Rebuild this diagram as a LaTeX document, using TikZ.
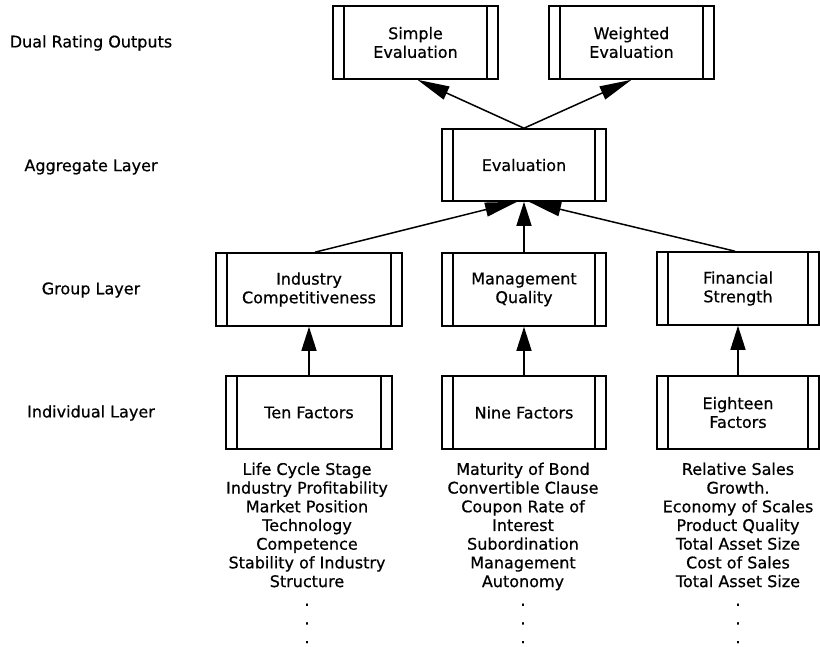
\documentclass[tikz,border=0pt]{standalone}
\usepackage{fontspec}
\setmainfont[FakeBold=0.6]{DejaVu Sans}
\usetikzlibrary{arrows.meta}
\begin{document}
\begin{tikzpicture}[x=1pt,y=-1pt,
  every node/.style={font=\fontsize{16pt}{18.7pt}\selectfont, inner sep=0pt, align=center},
  blk/.style={draw, line width=1.6pt, minimum width=#1, minimum height=73pt,
    path picture={
      \draw[line width=1.6pt] ([xshift=11pt]path picture bounding box.north west) -- ([xshift=11pt]path picture bounding box.south west);
      \draw[line width=1.6pt] ([xshift=-11pt]path picture bounding box.north east) -- ([xshift=-11pt]path picture bounding box.south east);
    }},
  dconn/.style={line width=1.5pt, -{Triangle[length=32pt,width=14pt]}},
  vconn/.style={line width=1.5pt, -{Triangle[length=24pt,width=15pt]}},
  lbl/.style={}
]
\fill[white] (0,0) rectangle (820,646);
\useasboundingbox (0,0) rectangle (820,646);

% layer labels
\node[lbl] (l1) at (91,43) {Dual Rating Outputs};
\node[lbl] (l2) at (91,167) {Aggregate Layer};
\node[lbl] (l3) at (91,290) {Group Layer};
\node[lbl] (l4) at (91,413) {Individual Layer};

% boxes
\node[blk=165pt] (sim) at (415.5,42.5) {Simple\\Evaluation};
\node[blk=165pt] (wei) at (631.5,42.5) {Weighted\\Evaluation};
\node[blk=164pt, minimum height=72pt] (eva) at (524,165) {Evaluation};
\node[blk=186pt] (ind) at (309,289.5) {Industry\\Competitiveness};
\node[blk=164pt] (man) at (524,289.5) {Management\\Quality};
\node[blk=162pt] (fin) at (738,288.5) {Financial\\Strength};
\node[blk=166pt] (ten) at (309,412.5) {Ten Factors};
\node[blk=164pt] (nin) at (524,412.5) {Nine Factors};
\node[blk=162pt] (eig) at (738,412.5) {Eighteen\\Factors};

% factor lists
\node[anchor=north] (tenl) at (307,462.5) {Life Cycle Stage\\Industry Profitability\\Market Position\\Technology\\Competence\\Stability of Industry\\Structure\\.\\.\\.};
\node[anchor=north] (ninl) at (523,462.5) {Maturity of Bond\\Convertible Clause\\Coupon Rate of\\Interest\\Subordination\\Management\\Autonomy\\.\\.\\.};
\node[anchor=north] (eigl) at (738,462.5) {Relative Sales\\Growth.\\Economy of Scales\\Product Quality\\Total Asset Size\\Cost of Sales\\Total Asset Size\\.\\.\\.};

% connectors
\draw[dconn] (eva.north) -- ([xshift=2pt]sim.south);
\draw[dconn] (eva.north) -- (wei.south);
\draw[dconn] ([xshift=6pt]ind.north) -- ([xshift=-7pt]eva.south);
\draw[vconn] (man.north) -- (eva.south);
\draw[dconn] ([xshift=-3pt]fin.north) -- ([xshift=5pt]eva.south);
\draw[vconn] (ten.north) -- (ind.south);
\draw[vconn] (nin.north) -- (man.south);
\draw[vconn] (eig.north) -- (fin.south);
\end{tikzpicture}
\end{document}
